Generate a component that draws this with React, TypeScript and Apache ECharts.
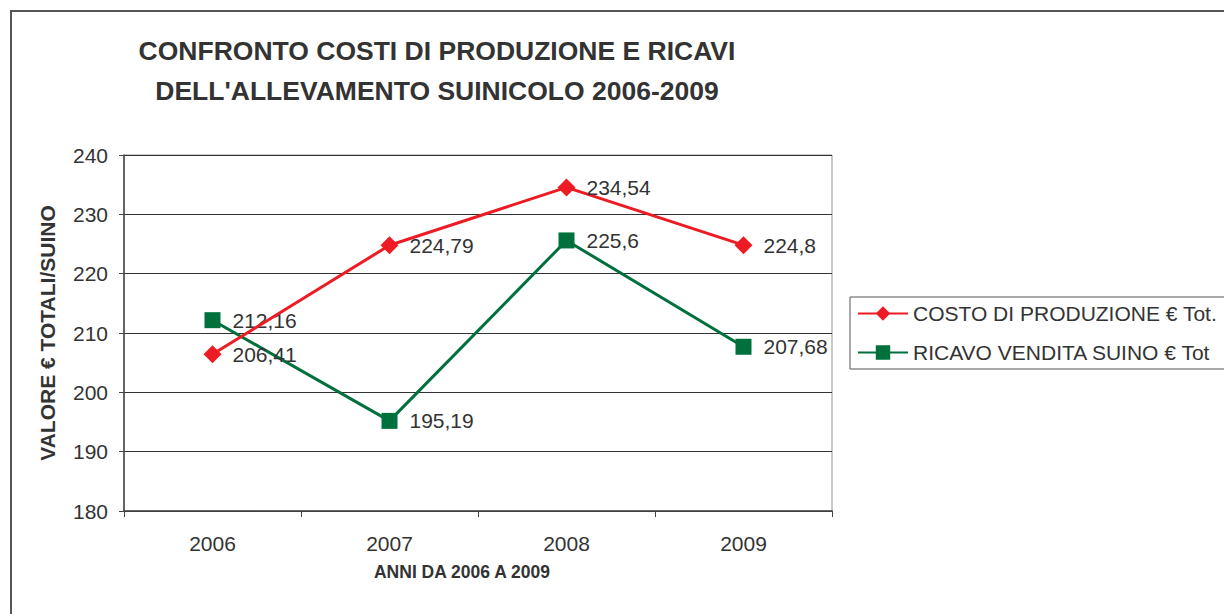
import React, { useEffect, useRef } from "react";
import * as echarts from "echarts";

const years = ["2006", "2007", "2008", "2009"];
const costoProduzione = [206.41, 224.79, 234.54, 224.8];
const ricavoVendita = [212.16, 195.19, 225.6, 207.68];
const titleLines = ["CONFRONTO COSTI DI PRODUZIONE E RICAVI", "DELL'ALLEVAMENTO SUINICOLO 2006-2009"];
const seriesNames = ["COSTO DI PRODUZIONE € Tot.", "RICAVO VENDITA SUINO € Tot"];
const yAxisName = "VALORE € TOTALI/SUINO";
const xAxisName = "ANNI DA 2006 A 2009";

const FONT = "'Liberation Sans', Arial, sans-serif";
const TXT = "#333333";

export default function App() {
  const ref = useRef<HTMLDivElement>(null);
  useEffect(() => {
    document.body.style.margin = "0";
    const chart = echarts.init(ref.current!, null, { renderer: "svg" });
    const fmt = (p: any) => String(p.value).replace(".", ",");
    chart.setOption({
      animation: false,
      backgroundColor: "#ffffff",
      textStyle: { fontFamily: FONT },
      title: {
        text: titleLines.join("\n"),
        left: 432,
        top: 26,
        textAlign: "center",
        textStyle: { fontFamily: FONT, fontSize: 26.5, fontWeight: "bold", color: TXT, lineHeight: 40 },
      },
      grid: {
        left: 124,
        top: 155,
        width: 708,
        height: 356,
        show: true,
        borderColor: "#9a9090",
        borderWidth: 1,
        backgroundColor: "transparent",
      },
      legend: {
        orient: "vertical",
        left: 850,
        top: 297,
        padding: [6, 40, 6, 7],
        borderColor: "#555555",
        borderWidth: 1,
        itemWidth: 50,
        itemHeight: 18,
        itemGap: 18,
        textStyle: { fontFamily: FONT, fontSize: 21, color: TXT },
        data: seriesNames,
      },
      xAxis: {
        type: "category",
        data: years,
        boundaryGap: true,
        axisLine: { lineStyle: { color: "#444", width: 1.5 } },
        axisTick: { show: true, length: 6, lineStyle: { color: "#444" } },
        axisLabel: { fontFamily: FONT, fontSize: 21, color: TXT, margin: 22 },
        splitLine: { show: false },
      },
      yAxis: {
        type: "value",
        min: 180,
        max: 240,
        interval: 10,
        name: yAxisName,
        nameLocation: "middle",
        nameGap: 66,
        nameTextStyle: { fontFamily: FONT, fontSize: 21, fontWeight: "bold", color: TXT },
        axisLine: { show: true, lineStyle: { color: "#444", width: 1.5 } },
        axisTick: { show: true, length: 5, lineStyle: { color: "#444" } },
        axisLabel: { fontFamily: FONT, fontSize: 21, color: TXT, margin: 16 },
        splitLine: { show: true, lineStyle: { color: "#333", width: 1 } },
      },
      graphic: [
        {
          type: "rect",
          shape: { x: 11, y: 11, width: 1240, height: 640 },
          style: { fill: "none", stroke: "#555", lineWidth: 2 },
          silent: true,
        },
        {
          type: "text",
          x: 462,
          y: 572,
          style: {
            text: xAxisName,
            fontFamily: FONT,
            fontSize: 17.5,
            fontWeight: "bold",
            fill: TXT,
            textAlign: "center",
            textVerticalAlign: "middle",
          },
        },
      ],
      series: [
        {
          name: seriesNames[0],
          type: "line",
          data: costoProduzione,
          symbol: "diamond",
          symbolSize: 18,
          itemStyle: { color: "#ED1C24" },
          lineStyle: { color: "#ED1C24", width: 3 },
          label: { show: true, position: "right", distance: 11, formatter: fmt, fontFamily: FONT, fontSize: 21, color: TXT },
          z: 3,
        },
        {
          name: seriesNames[1],
          type: "line",
          data: ricavoVendita,
          symbol: "rect",
          symbolSize: 16,
          itemStyle: { color: "#00703C" },
          lineStyle: { color: "#00703C", width: 3 },
          label: { show: true, position: "right", distance: 12, formatter: fmt, fontFamily: FONT, fontSize: 21, color: TXT },
          z: 2,
        },
      ],
    });
    return () => chart.dispose();
  }, []);
  return <div ref={ref} style={{ width: 1224, height: 614 }} />;
}
